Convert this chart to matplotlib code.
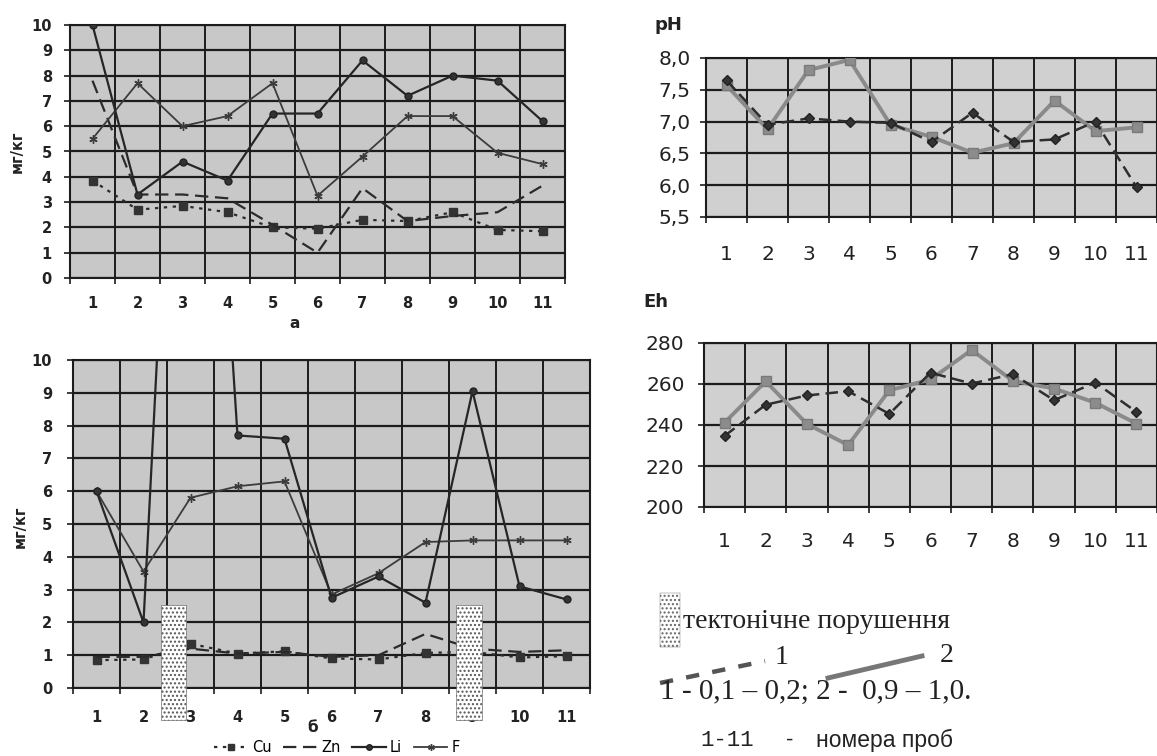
import matplotlib
matplotlib.use('Agg')
import matplotlib.pyplot as plt
import numpy as np
from matplotlib.patches import Rectangle
from matplotlib.lines import Line2D

# ---------------- data ----------------
samples = list(range(1, 12))
tick_labels = [str(s) for s in samples]

# panel а, мг/кг
a_cu = [3.85, 2.7, 2.85, 2.6, 2.0, 1.95, 2.3, 2.25, 2.6, 1.9, 1.85]
a_zn = [7.8, 3.3, 3.3, 3.15, 2.1, 1.0, 3.55, 2.25, 2.45, 2.6, 3.65]
a_li = [10.0, 3.3, 4.6, 3.85, 6.5, 6.5, 8.6, 7.2, 8.0, 7.8, 6.2]
a_f = [5.5, 7.7, 6.0, 6.4, 7.7, 3.25, 4.8, 6.4, 6.4, 4.95, 4.5]

# panel б, мг/кг
b_cu = [0.85, 0.87, 1.35, 1.05, 1.12, 0.9, 0.87, 1.07, 1.1, 0.93, 0.97]
b_zn = [0.95, 0.95, 1.2, 1.05, 1.1, 0.95, 1.0, 1.65, 1.2, 1.1, 1.15]
b_li = [6.0, 2.0, 30.0, 7.7, 7.6, 2.75, 3.4, 2.6, 9.05, 3.1, 2.7]
b_f = [6.0, 3.55, 5.8, 6.15, 6.3, 2.85, 3.5, 4.45, 4.5, 4.5, 4.5]

# pH, depth 1 (0,1-0,2) and depth 2 (0,9-1,0)
ph_1 = [7.65, 6.95, 7.05, 7.0, 6.98, 6.68, 7.14, 6.68, 6.72, 7.0, 5.97]
ph_2 = [7.57, 6.88, 7.81, 7.97, 6.95, 6.76, 6.51, 6.66, 7.33, 6.85, 6.91]

# Eh
eh_1 = [234.7, 249.9, 254.4, 256.5, 245.4, 265.5, 260.2, 264.8, 252.1, 260.7, 246.4]
eh_2 = [241.2, 261.3, 240.5, 230.2, 256.9, 262.2, 276.6, 261.5, 257.8, 250.9, 240.7]

# tectonic disturbance zones (sample-axis intervals) in panel б
tectonic_zones = [(2.38, 2.91), (8.65, 9.2)]

# ---------------- figure ----------------
W, H = 1157, 756
fig = plt.figure(figsize=(W / 100, H / 100), dpi=100)
fig.patch.set_facecolor('white')

GRID = '#1c1c1c'


def rect(x0, y0, x1, y1):
    return [x0 / W, 1 - y1 / H, (x1 - x0) / W, (y1 - y0) / H]


def style(ax, ylim, yticks, ylabels, fs, weight, xpad, ypad, bg):
    ax.set_facecolor(bg)
    ax.set_xlim(0.5, 11.5)
    ax.set_ylim(*ylim)
    ax.set_yticks(yticks)
    ax.set_yticklabels(ylabels, fontsize=fs, fontweight=weight, color='#222')
    ax.set_xticks(samples)
    ax.set_xticklabels(tick_labels, fontsize=fs, fontweight=weight, color='#222')
    ax.set_xticks(np.arange(0.5, 12, 1), minor=True)
    ax.grid(which='minor', axis='x', color=GRID, lw=1.4)
    ax.grid(which='major', axis='y', color=GRID, lw=1.6)
    ax.grid(which='major', axis='x', visible=False)
    ax.tick_params(axis='x', which='major', length=0, pad=xpad)
    ax.tick_params(axis='x', which='minor', length=4, width=1.2, color=GRID, direction='out')
    ax.tick_params(axis='y', length=4, width=1.2, color=GRID, direction='out', pad=ypad)
    for s in ax.spines.values():
        s.set_color(GRID)
        s.set_linewidth(1.5)
    ax.set_axisbelow(True)


def draw_metals(ax, cu, zn, li, f):
    h_cu, = ax.plot(samples, cu, color='#2b2b2b', lw=1.6, ls=(0, (1.5, 2.5)),
                    marker='s', ms=5.5, mfc='#333', mec='#333', label='Cu', zorder=3)
    h_zn, = ax.plot(samples, zn, color='#2b2b2b', lw=1.6, ls=(0, (6, 3)),
                    label='Zn', zorder=3)
    h_li, = ax.plot(samples, li, color='#262626', lw=1.6, marker='o', ms=5,
                    mfc='#333', mec='#222', label='Li', zorder=4)
    h_f, = ax.plot(samples, f, color='#3c3c3c', lw=1.3, marker=(6, 2, 0), ms=6,
                   mew=1.0, mec='#3c3c3c', label='F', zorder=3)
    return [h_cu, h_zn, h_li, h_f]


mg_ticks = list(range(0, 11))
mg_labels = [str(t) for t in mg_ticks]

# ---- panel а ----
ax_a = fig.add_axes(rect(70, 25, 565, 278))
style(ax_a, (0, 10), mg_ticks, mg_labels, 10.5, 'bold', 13, 9, '#c8c8c8')
draw_metals(ax_a, a_cu, a_zn, a_li, a_f)
fig.text(17 / W, 1 - 152 / H, 'мг/кг', rotation=90, fontsize=10.5, fontweight='bold',
         ha='center', va='center', color='#222')
fig.text(295 / W, 1 - 323 / H, 'а', fontsize=11, fontweight='bold',
         ha='center', va='center', color='#222')

# ---- panel б ----
ax_b = fig.add_axes(rect(73, 360, 590, 688))
style(ax_b, (0, 10), mg_ticks, mg_labels, 10.5, 'bold', 16, 11, '#c8c8c8')
handles = draw_metals(ax_b, b_cu, b_zn, b_li, b_f)
for (x0, x1) in tectonic_zones:
    ax_b.add_patch(Rectangle((x0, -0.98), x1 - x0, 3.5, facecolor='white',
                             edgecolor='#555', hatch='....', lw=0.4,
                             clip_on=False, zorder=6))
fig.text(20 / W, 1 - 527 / H, 'мг/кг', rotation=90, fontsize=10.5, fontweight='bold',
         ha='center', va='center', color='#222')
fig.text(313 / W, 1 - 727 / H, 'б', fontsize=11, fontweight='bold',
         ha='center', va='center', color='#222')
fig.legend(handles=handles, labels=['Cu', 'Zn', 'Li', 'F'], loc='center',
           bbox_to_anchor=(337 / W, 1 - 748 / H), ncol=4, frameon=False,
           fontsize=10.5, handlelength=2.3, columnspacing=0.8, handletextpad=0.3,
           borderaxespad=0, borderpad=0, markerscale=0.8)


def draw_depths(ax, s1, s2):
    ax.plot(samples, s2, color='#8a8a8a', lw=2.8, marker='s', ms=7,
            mfc='#8c8c8c', mec='#7a7a7a', zorder=3)
    ax.plot(samples, s1, color='#2e2e2e', lw=1.8, ls=(0, (5, 2.5)), marker='D',
            ms=5, mfc='#333', mec='#222', zorder=4)


# ---- pH ----
ax_ph = fig.add_axes(rect(706, 58, 1157, 217))
ph_ticks = [5.5, 6.0, 6.5, 7.0, 7.5, 8.0]
style(ax_ph, (5.5, 8.0), ph_ticks, [f'{t:.1f}'.replace('.', ',') for t in ph_ticks],
      14.5, 'normal', 20, 7, '#d0d0d0')
draw_depths(ax_ph, ph_1, ph_2)
fig.text(655 / W, 1 - 25 / H, 'pH', fontsize=13, fontweight='bold',
         ha='left', va='center', color='#222')

# ---- Eh ----
ax_eh = fig.add_axes(rect(704, 343, 1157, 507))
eh_ticks = [200, 220, 240, 260, 280]
style(ax_eh, (200, 280), eh_ticks, [str(t) for t in eh_ticks], 14.5, 'normal', 18, 10,
      '#d0d0d0')
draw_depths(ax_eh, eh_1, eh_2)
fig.text(643 / W, 1 - 302 / H, 'Eh', fontsize=13, fontweight='bold',
         ha='left', va='center', color='#222')

# ---- explanatory legend (right bottom) ----
fig.add_artist(Rectangle((660 / W, 1 - 647 / H), 20 / W, 54 / H,
                         transform=fig.transFigure, facecolor='white',
                         edgecolor='#666', hatch='....', lw=0.3))
fig.text(683 / W, 1 - 621 / H, 'тектонічне порушення', fontsize=20,
         family='Liberation Serif', ha='left', va='center', color='#222')
fig.add_artist(Line2D([660 / W, 765 / W], [1 - 683 / H, 1 - 661 / H],
                      transform=fig.transFigure, color='#555', lw=3.2,
                      ls=(0, (3, 3))))
fig.text(775 / W, 1 - 657 / H, '1', fontsize=20, family='Liberation Serif',
         ha='left', va='center', color='#222')
fig.add_artist(Line2D([828 / W, 922 / W], [1 - 678 / H, 1 - 656 / H],
                      transform=fig.transFigure, color='#777', lw=3.5))
fig.text(940 / W, 1 - 655 / H, '2', fontsize=20, family='Liberation Serif',
         ha='left', va='center', color='#222')
fig.text(660 / W, 1 - 692 / H, '1 - 0,1 – 0,2; 2 -  0,9 – 1,0.', fontsize=21,
         family='Liberation Serif', ha='left', va='center', color='#222')
fig.text(700 / W, 1 - 740 / H, '1-11', fontsize=16, family='Liberation Mono',
         ha='left', va='center', color='#222')
fig.text(786 / W, 1 - 740 / H, '-', fontsize=16, family='Liberation Sans',
         ha='left', va='center', color='#222')
fig.text(816 / W, 1 - 740 / H, 'номера проб', fontsize=16.5, family='Liberation Sans',
         ha='left', va='center', color='#222')

fig.savefig('out.png', dpi=100, facecolor='white')
